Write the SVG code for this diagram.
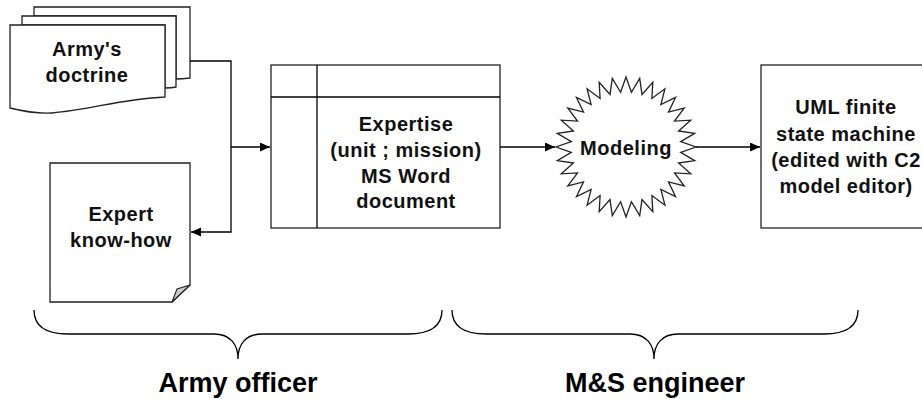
<svg xmlns="http://www.w3.org/2000/svg" width="922" height="399" viewBox="0 0 922 399">
  <style>
    .shape { fill: #ffffff; stroke: #222222; stroke-width: 1.3; }
    .line { fill: none; stroke: #000000; stroke-width: 1.3; }
    .label { font-family: "Liberation Sans", Arial, sans-serif; font-weight: bold; font-size: 20px; letter-spacing: 0.5px; fill: #111111; text-anchor: middle; }
    .role { font-family: "Liberation Sans", Arial, sans-serif; font-weight: bold; font-size: 27px; fill: #000000; text-anchor: middle; }
  </style>
  <defs>
    <marker id="arrow" markerUnits="userSpaceOnUse" markerWidth="11" markerHeight="10" refX="10" refY="4.5" orient="auto">
      <path d="M0,0 L10,4.5 L0,9 z" fill="#000000"/>
    </marker>
  </defs>

  <rect width="922" height="399" fill="#ffffff"/>

  <!-- stacked documents -->
  <g id="doctrine">
    <path class="shape" d="M34,7 H190 V78 C182,79 178,79 176,79 V16 H34 Z"/>
    <path class="shape" d="M22,16 H176 V87 C172,88 168,88 165,88 V25 H22 Z"/>
    <path class="shape" d="M10,25 H165 V97 C120,99 90,110 52,113 C35,114 22,111 10,108 Z"/>
    <text class="label" x="87" y="56">Army's</text>
    <text class="label" x="87" y="82">doctrine</text>
  </g>

  <!-- note with folded corner -->
  <g id="knowhow">
    <path class="shape" d="M50,163 H190 V285 L172,302 H50 Z"/>
    <path d="M172,302 L177,289 L190,285 Z" fill="#c8c8c8" stroke="#222222" stroke-width="1.1"/>
    <text class="label" x="121" y="221">Expert</text>
    <text class="label" x="121" y="247">know-how</text>
  </g>

  <!-- internal storage style box -->
  <g id="expertise">
    <rect class="shape" x="271" y="65" width="229" height="163"/>
    <line class="line" x1="271" y1="97" x2="500" y2="97" stroke="#222222"/>
    <line class="line" x1="317" y1="65" x2="317" y2="228" stroke="#222222"/>
    <text class="label" x="406" y="131">Expertise</text>
    <text class="label" x="406" y="157">(unit ; mission)</text>
    <text class="label" x="406" y="183">MS Word</text>
    <text class="label" x="406" y="208">document</text>
  </g>

  <!-- starburst process -->
  <g id="modeling">
    <polygon class="shape" stroke="#000000" points="626,77 631.4,92.3 639.7,78.3 642,94.4 652.8,82.3 651.9,98.5 664.9,88.8 660.9,104.5 675.5,97.5 668.5,112.1 684.2,108.1 674.5,121.1 690.7,120.2 678.6,131 694.7,133.3 680.7,141.6 696,147 680.7,152.4 694.7,160.7 678.6,163 690.7,173.8 674.5,172.9 684.2,185.9 668.5,181.9 675.5,196.5 660.9,189.5 664.9,205.2 651.9,195.5 652.8,211.7 642,199.6 639.7,215.7 631.4,201.7 626,217 620.6,201.7 612.3,215.7 610,199.6 599.2,211.7 600.1,195.5 587.1,205.2 591.1,189.5 576.5,196.5 583.5,181.9 567.8,185.9 577.5,172.9 561.3,173.8 573.4,163 557.3,160.7 571.3,152.4 556,147 571.3,141.6 557.3,133.3 573.4,131 561.3,120.2 577.5,121.1 567.8,108.1 583.5,112.1 576.5,97.5 591.1,104.5 587.1,88.8 600.1,98.5 599.2,82.3 610,94.4 612.3,78.3 620.6,92.3"/>
    <text class="label" x="626" y="155">Modeling</text>
  </g>

  <!-- state machine box -->
  <g id="uml">
    <rect class="shape" x="761" y="65" width="180" height="163"/>
    <text class="label" x="846" y="114">UML finite</text>
    <text class="label" x="846" y="141">state machine</text>
    <text class="label" x="846" y="167">(edited with C2</text>
    <text class="label" x="846" y="193">model editor)</text>
  </g>

  <!-- connectors -->
  <g id="connectors">
    <path class="line" d="M190,61 H231 V232 H191" marker-end="url(#arrow)"/>
    <path class="line" d="M231,147 H270" marker-end="url(#arrow)"/>
    <path class="line" d="M500,147 H555" marker-end="url(#arrow)"/>
    <path class="line" d="M696,147 H760" marker-end="url(#arrow)"/>
  </g>

  <!-- role braces -->
  <g id="officer">
    <path class="line" d="M34,310 C34,326 46,334 68,334 H214 C230,334 238,344 238,359 C238,344 246,334 262,334 H408 C430,334 442,326 442,310"/>
    <text class="role" x="238" y="392">Army officer</text>
  </g>
  <g id="engineer">
    <path class="line" d="M452,310 C452,326 464,334 486,334 H630 C646,334 654,344 654,359 C654,344 662,334 678,334 H824 C846,334 858,326 858,310"/>
    <text class="role" x="655" y="392">M&amp;S engineer</text>
  </g>
</svg>
